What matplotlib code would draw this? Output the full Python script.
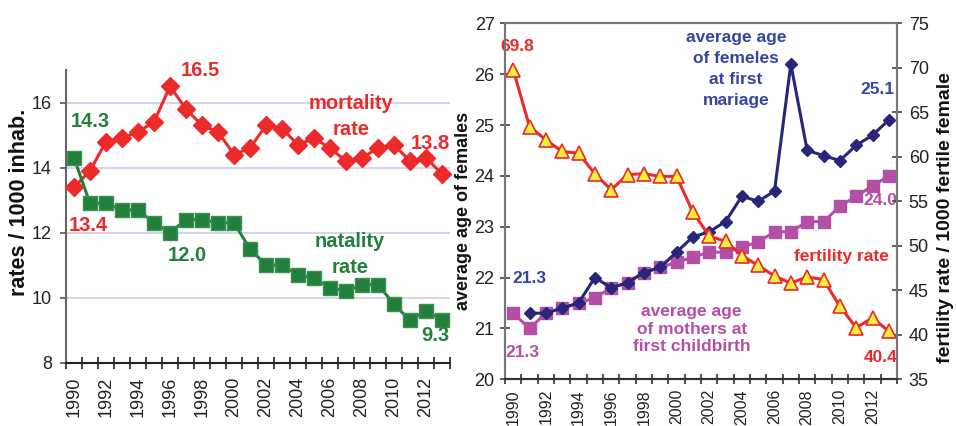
import matplotlib
matplotlib.use('Agg')
import matplotlib.pyplot as plt
import numpy as np

# ---------------- data ----------------
years = list(range(1990, 2014))
mortality = [13.4, 13.9, 14.8, 14.9, 15.1, 15.4, 16.5, 15.8, 15.3, 15.1, 14.4, 14.6,
             15.3, 15.2, 14.7, 14.9, 14.6, 14.2, 14.3, 14.6, 14.7, 14.2, 14.3, 13.8]
natality = [14.3, 12.9, 12.9, 12.7, 12.7, 12.3, 12.0, 12.4, 12.4, 12.3, 12.3, 11.5,
            11.0, 11.0, 10.7, 10.6, 10.3, 10.2, 10.4, 10.4, 9.8, 9.3, 9.6, 9.3]
fertility = [69.8, 63.4, 61.9, 60.6, 60.4, 58.1, 56.3, 58.0, 58.1, 57.8, 57.8, 53.8,
             51.1, 50.5, 48.9, 47.8, 46.6, 45.8, 46.5, 46.2, 43.2, 40.8, 41.9, 40.4]
marriage_age = [np.nan, 21.3, 21.3, 21.4, 21.5, 22.0, 21.8, 21.9, 22.1, 22.2, 22.5, 22.8,
                22.9, 23.1, 23.6, 23.5, 23.7, 26.2, 24.5, 24.4, 24.3, 24.6, 24.8, 25.1]
mother_age = [21.3, 21.0, 21.3, 21.4, 21.5, 21.6, 21.8, 21.9, 22.1, 22.2, 22.3, 22.4,
              22.5, 22.5, 22.6, 22.7, 22.9, 22.9, 23.1, 23.1, 23.4, 23.6, 23.8, 24.0]

RED = '#EC2A2A'
GREEN = '#23803C'
NAVY = '#27267A'
BLUE_TXT = '#3546A0'
PURPLE = '#B44FA6'
YELLOW = '#F4EE3C'
TICKC = '#222222'

plt.rcParams['font.family'] = ['Liberation Sans', 'DejaVu Sans']

W, H = 956, 426
fig = plt.figure(figsize=(W / 100, H / 100), dpi=100)

def rect(x0, y0, x1, y1):
    return [x0 / W, 1 - y1 / H, (x1 - x0) / W, (y1 - y0) / H]

x = np.arange(len(years))
even_idx = x[::2]
even_lbl = [str(y) for y in years[::2]]

# ---------------- left panel ----------------
ax1 = fig.add_axes(rect(66, 70, 450, 362.7))
ax1.set_xlim(-0.5, len(years) - 0.5)
ax1.set_ylim(8, 17)
ax1.set_yticks([8, 10, 12, 14, 16])
ax1.yaxis.grid(True, color='#CDCDE6', lw=1.2, zorder=0)
ax1.set_axisbelow(True)
ax1.plot(x, mortality, color=RED, lw=2.2, marker='D', ms=8.8, mfc=RED, mec=RED,
         zorder=3, clip_on=False)
ax1.plot(x, natality, color=GREEN, lw=2.2, marker='s', ms=9.5, mfc=GREEN, mec='#3A9050',
         zorder=3, clip_on=False)
for s in ['top', 'right']:
    ax1.spines[s].set_visible(False)
ax1.spines['left'].set_color('#666666')
ax1.spines['left'].set_linewidth(1.5)
ax1.spines['bottom'].set_color('#222222')
ax1.spines['bottom'].set_linewidth(1.5)
ax1.set_xticks(np.arange(-0.5, len(years)), [''] * (len(years) + 1))
ax1.set_xticks(even_idx, even_lbl, minor=True)
ax1.tick_params(axis='x', which='major', direction='inout', length=8.5, width=1.2, color='#222222')
ax1.tick_params(axis='x', which='minor', length=0, pad=10, labelsize=13,
                labelrotation=90, labelcolor=TICKC)
ax1.tick_params(axis='y', direction='out', length=4, width=1.2, pad=6, labelsize=13,
                labelcolor=TICKC, color='#555555')

ann1 = dict(fontsize=14.5, fontweight='bold', ha='center', va='center', clip_on=False)
ax1.text(7.9, 16.98, '16.5', color=RED, **ann1)
ax1.text(1.0, 15.42, '14.3', color=GREEN, **ann1)
ax1.text(0.9, 12.22, '13.4', color=RED, **ann1)
ax1.text(17.3, 15.96, 'mortality', color=RED, **ann1)
ax1.text(17.3, 15.17, 'rate', color=RED, **ann1)
ax1.text(22.25, 14.73, '13.8', color=RED, **ann1)
ax1.text(17.25, 11.74, 'natality', color=GREEN, **ann1)
ax1.text(17.25, 10.94, 'rate', color=GREEN, **ann1)
ax1.text(7.1, 11.30, '12.0', color=GREEN, **ann1)
ax1.text(22.56, 8.83, '9.3', color=GREEN, **ann1)

fig.text(20 / W, 1 - 202 / H, 'rates / 1000 inhab.', rotation=90, ha='center', va='center',
         fontsize=15.5, fontweight='bold', color='#111111')

# ---------------- right panel ----------------
ax2 = fig.add_axes(rect(505, 23.3, 897, 379.3))
ax3 = ax2.twinx()
ax2.set_xlim(-0.5, len(years) - 0.5)
ax2.set_ylim(20, 27)
ax3.set_ylim(35, 75)
ax2.set_yticks(range(20, 28))
ax3.set_yticks(range(35, 76, 5))

ax2.plot(x, marriage_age, color=NAVY, lw=2.2, marker='D', ms=6.3, mfc=NAVY, mec=NAVY,
         zorder=3, clip_on=False)
ax2.plot(x, mother_age, color=PURPLE, lw=2.2, marker='s', ms=9, mfc=PURPLE, mec=PURPLE,
         zorder=2, clip_on=False)
ax3.plot(x, fertility, color=RED, lw=2.2, marker='^', ms=10, mfc=YELLOW, mec=RED, mew=1.2,
         zorder=3, clip_on=False)

for a in (ax2, ax3):
    for s in ['top', 'left', 'right']:
        a.spines[s].set_color('#777777')
        a.spines[s].set_linewidth(1.5)
    a.spines['bottom'].set_color('#333333')
    a.spines['bottom'].set_linewidth(1.5)

ax2.set_xticks(np.arange(-0.5, len(years)), [''] * (len(years) + 1))
ax2.set_xticks(even_idx, even_lbl, minor=True)
ax2.tick_params(axis='x', which='major', direction='inout', length=7, width=1.2, color='#333333')
ax2.tick_params(axis='x', which='minor', length=0, pad=7, labelsize=11.5,
                labelrotation=90, labelcolor=TICKC)
ax2.tick_params(axis='y', direction='inout', length=7, width=1.2, pad=4, labelsize=13,
                labelcolor=TICKC, color='#444444')
ax3.tick_params(axis='y', direction='inout', length=7, width=1.2, pad=5, labelsize=13,
                labelcolor=TICKC, color='#444444')

ann2 = dict(fontsize=12.5, fontweight='bold', ha='center', va='center',
            clip_on=False, linespacing=1.5)
ax2.text(0.25, 26.55, '69.8', color=RED, **ann2)
ax2.text(13.65, 26.10, 'average age\nof femeles\nat first\nmariage', color=BLUE_TXT, **ann2)
ax2.text(22.3, 25.70, '25.1', color=BLUE_TXT, **ann2)
ax2.text(0.99, 21.99, '21.3', color=BLUE_TXT, **ann2)
ax2.text(0.58, 20.52, '21.3', color=PURPLE, **ann2)
ax2.text(10.93, 20.985, 'average age\nof mothers at\nfirst childbirth', color=PURPLE,
         **dict(ann2, linespacing=1.2))
ax2.text(22.46, 23.51, '24.0', color=PURPLE, **ann2)
ax2.text(20.08, 22.42, 'fertility rate', color=RED, **ann2)
ax2.text(22.5, 20.43, '40.4', color=RED, **ann2)

fig.text(463 / W, 1 - 211 / H, 'average age of females', rotation=90, ha='center',
         va='center', fontsize=13, fontweight='bold', color='#111111')
fig.text(945 / W, 1 - 218 / H, 'fertility rate / 1000 fertile female', rotation=90,
         ha='center', va='center', fontsize=14, fontweight='bold', color='#111111')

fig.savefig('out.png', dpi=100)
